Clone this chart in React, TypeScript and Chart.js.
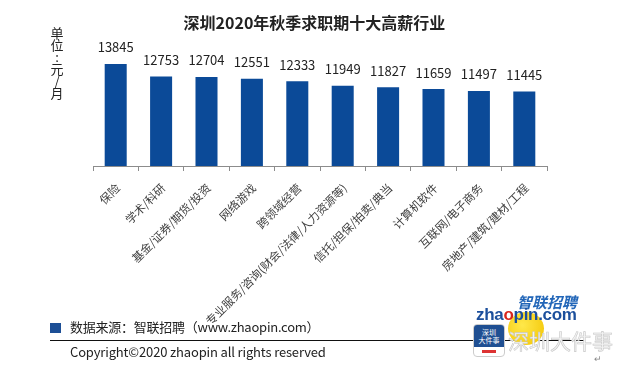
import React, { useEffect, useRef } from "react";
import { Chart, registerables } from "chart.js";

Chart.register(...registerables);

const chartTitle = "深圳2020年秋季求职期十大高薪行业";
const unitLabel = ["单", "位", ":", "元", "/", "月"];
const categories = [
  "保险",
  "学术/科研",
  "基金/证券/期货/投资",
  "网络游戏",
  "跨领域经营",
  "专业服务/咨询(财会/法律/人力资源等)",
  "信托/担保/拍卖/典当",
  "计算机软件",
  "互联网/电子商务",
  "房地产/建筑/建材/工程",
];
const salaries = [13845, 12753, 12704, 12551, 12333, 11949, 11827, 11659, 11497, 11445];
const sourceText = "数据来源：智联招聘（www.zhaopin.com）";
const copyrightText = "Copyright©2020 zhaopin all rights reserved";

const FONT = '"Noto Sans CJK SC", "Noto Sans", sans-serif';
const BAR_COLOR = "#0b4a98";

const valueLabels = {
  id: "valueLabels",
  afterDatasetsDraw(chart: any) {
    const ctx = chart.ctx;
    const meta = chart.getDatasetMeta(0);
    ctx.save();
    ctx.font = `13px ${FONT}`;
    ctx.fillStyle = "#222";
    ctx.textAlign = "center";
    ctx.textBaseline = "middle";
    meta.data.forEach((bar: any, i: number) => {
      ctx.fillText(String(chart.data.datasets[0].data[i]), bar.x, bar.y - 16.5);
    });
    ctx.restore();
  },
};

export default function App() {
  const ref = useRef<HTMLCanvasElement | null>(null);

  useEffect(() => {
    document.body.style.margin = "0";
    const canvas = ref.current;
    if (!canvas) return;
    const chart = new Chart(canvas, {
      type: "bar",
      data: {
        labels: categories,
        datasets: [
          {
            data: salaries,
            backgroundColor: BAR_COLOR,
            barPercentage: 0.485,
            categoryPercentage: 1,
          },
        ],
      },
      options: {
        responsive: false,
        animation: false,
        devicePixelRatio: 1,
        layout: { padding: { top: 39, left: 93, right: 82, bottom: 0 } },
        plugins: {
          legend: { display: false },
          title: { display: false },
          tooltip: { enabled: false },
        },
        scales: {
          x: {
            afterFit: (scale: any) => {
              scale.height = 199;
            },
            grid: {
              display: true,
              offset: true,
              drawOnChartArea: false,
              drawTicks: true,
              tickLength: 5,
              color: "#8c8c8c",
            },
            border: { display: true, color: "#8c8c8c" },
            ticks: {
              autoSkip: false,
              maxRotation: 45,
              minRotation: 45,
              padding: 10,
              labelOffset: 2,
              color: "#404040",
              font: { family: FONT, size: 11.5 },
            },
          },
          y: {
            display: false,
            min: 5000,
            max: 16000,
          },
        },
      },
      plugins: [valueLabels],
    } as any);
    return () => chart.destroy();
  }, []);

  const abs = (s: React.CSSProperties): React.CSSProperties => ({ position: "absolute", ...s });

  return (
    <div style={{ position: "relative", width: 629, height: 365, overflow: "hidden", background: "#fff", fontFamily: FONT }}>
      <canvas ref={ref} width={629} height={365} style={abs({ left: 0, top: 0, width: 629, height: 365 })} />
      <div style={abs({ left: 0, width: 629, top: 10, textAlign: "center", fontSize: 16, fontWeight: 700, color: "#222", lineHeight: "24px" })}>
        {chartTitle}
      </div>
      <div style={abs({ left: 50, top: 27, width: 14, textAlign: "center", fontSize: 13, color: "#222", lineHeight: "12px" })}>
        {unitLabel.map((c, i) => (
          <div key={i} style={{ height: 12 }}>{c}</div>
        ))}
      </div>
      <div style={abs({ left: 50, top: 323, width: 11, height: 10, background: "#1d4f96" })} />
      <div style={abs({ left: 70, top: 318, fontSize: 13, color: "#222", lineHeight: "18px", whiteSpace: "nowrap", letterSpacing: -0.25 })}>
        {sourceText}
      </div>
      <div style={abs({ left: 50, top: 340, width: 534, height: 1, background: "#111" })} />
      <div style={abs({ left: 70, top: 343, fontSize: 13, color: "#222", lineHeight: "18px", whiteSpace: "nowrap", letterSpacing: -0.15 })}>
        {copyrightText}
      </div>
      {/* logo */}
      <div style={abs({ left: 508, top: 312, width: 36, height: 33, borderRadius: "50%", background: "radial-gradient(circle at 40% 40%, #ffe84a, #f2c300)" })} />
      <div style={abs({ left: 517, top: 293, fontSize: 15, fontWeight: 700, fontStyle: "italic", color: "#2266b8", lineHeight: "18px", whiteSpace: "nowrap" })}>
        智联招聘
      </div>
      <div style={abs({ left: 476, top: 305, fontSize: 17, fontWeight: 700, color: "#1c4f9c", lineHeight: "19px", whiteSpace: "nowrap", fontFamily: '"Liberation Sans", Arial, sans-serif', letterSpacing: -0.3 })}>
        zha<span style={{ color: "#d9261c" }}>o</span>pin.com
      </div>
      <div style={abs({ left: 473, top: 324, width: 30, height: 31, borderRadius: 4, background: "#fff", border: "1px solid #ccc", overflow: "hidden" })}>
        <div style={{ background: "#1f4f92", height: 22, color: "#fff", fontSize: 7, lineHeight: "8px", textAlign: "center", paddingTop: 3, boxSizing: "border-box" }}>
          深圳<br />大件事
        </div>
        <div style={{ margin: "3px auto 0", width: 14, height: 3, background: "#d33" }} />
      </div>
      <div style={abs({ left: 508, top: 328, fontSize: 21, color: "#f4f4f4", lineHeight: "24px", whiteSpace: "nowrap", WebkitTextStroke: "0.6px #c8c8c8" } as any)}>
        深圳大件事
      </div>
      <div style={abs({ left: 594, top: 354, fontSize: 9, color: "#888", lineHeight: "10px" })}>↵</div>
    </div>
  );
}
